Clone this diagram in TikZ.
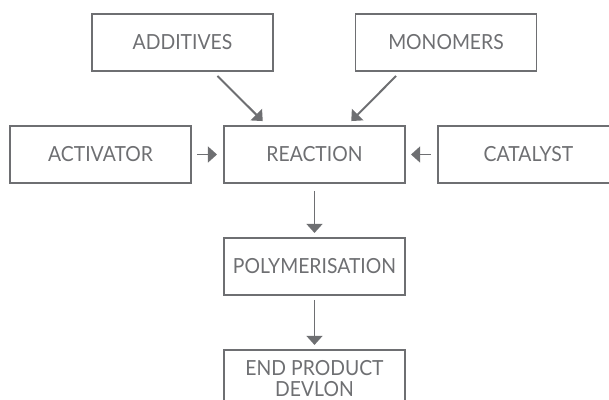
\documentclass[tikz,border=0pt]{standalone}
\usepackage{fontspec}
\setmainfont{Lato}[FakeStretch=0.93]
\usetikzlibrary{positioning,arrows.meta}
\definecolor{flowgray}{RGB}{110,111,114}
\tikzset{
  stage/.style={draw=flowgray,line width=1.4pt,minimum width=4.525cm,minimum height=1.425cm,
    inner sep=0pt,text=flowgray,font=\fontsize{14.8}{15}\selectfont,align=center},
  feed/.style={draw=flowgray,line width=1.4pt,-{Triangle[width=0.4cm,length=0.23cm]}},
}
\begin{document}
\begin{tikzpicture}[x=1cm,y=1cm,node distance=1.325cm and 0.775cm]
  \useasboundingbox (-7.8625,-6.1125) rectangle (7.3625,3.8625);
  \node[stage] (reaction) at (0,0) {REACTION};
  \node[stage,left=of reaction] (activator) {ACTIVATOR};
  \node[stage,right=of reaction] (catalyst) {CATALYST};
  \node[stage,above=of reaction,xshift=-3.3cm] (additives) {ADDITIVES};
  \node[stage,above=of reaction,xshift=3.2875cm] (monomers) {MONOMERS};
  \node[stage,below=of reaction] (polym) {POLYMERISATION};
  \node[stage,below=of polym] (endprod) {END PRODUCT\\DEVLON};
  % feeds into the reactor
  \draw[feed,shorten <=0.14cm,shorten >=0.14cm] ([xshift=0.775cm]additives.south) -- ([xshift=-1.195cm]reaction.north);
  \draw[feed,shorten <=0.14cm,shorten >=0.14cm] ([xshift=-1.15cm]monomers.south) -- ([xshift=0.82cm]reaction.north);
  \draw[feed,shorten <=0.125cm,shorten >=0.15cm] (activator) -- (reaction);
  \draw[feed,shorten <=0.15cm,shorten >=0.125cm] (catalyst) -- (reaction);
  % process line
  \draw[feed,shorten <=0.175cm,shorten >=0.1cm] (reaction) -- (polym);
  \draw[feed,shorten <=0.1cm,shorten >=0.1cm] (polym) -- (endprod);
\end{tikzpicture}
\end{document}
